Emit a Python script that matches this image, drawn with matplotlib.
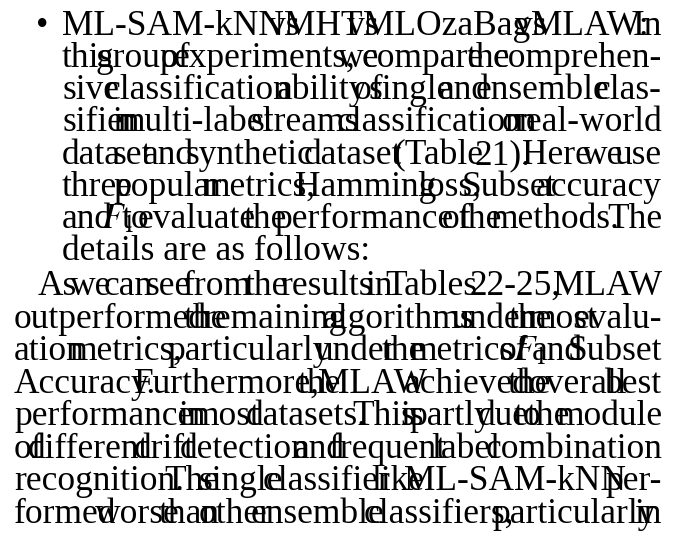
import matplotlib
matplotlib.use("Agg")
import matplotlib.pyplot as plt

plt.rcParams['font.family'] = ['Liberation Serif', 'DejaVu Serif']
plt.rcParams['mathtext.fontset'] = 'stix'

# (text, left x, right x or None when not justified)
lines = [
    ("ML-SAM-kNN vs MHT vs MLOzaBag vs MLAW: In", 62, 662),
    ("this group of experiments, we compare the comprehen-", 62, 662),
    ("sive classification ability of single and ensemble clas-", 62, 662),
    ("sifier in multi-label streams classification on real-world", 62, 662),
    ("data set and synthetic dataset (Table 21). Here we use", 62, 662),
    ("three popular metrics, Hamming loss, Subset accuracy", 62, 662),
    ("and $F_1$ to evaluate the performance of the methods. The", 62, 662),
    ("details are as follows:", 62, None),
    ("As we can see from the results in Tables 22-25, MLAW", 38, 662),
    ("outperformed the remaining algorithms under the most evalu-", 14, 662),
    ("ation metrics, particularly under the metrics of $F_1$ and Subset", 14, 662),
    ("Accuracy. Furthermore, the MLAW achieved the overall best", 14, 662),
    ("performance in most datasets. This is partly due to the module", 14, 662),
    ("of different drift detection and frequent label combination", 14, 662),
    ("recognition. The single classifier like ML-SAM-kNN per-", 14, 662),
    ("formed worse than other ensemble classifiers, particularly in", 14, 662),
]
baselines = [35, 67, 99, 131, 164, 196, 228, 260,
             295, 328, 360, 393, 425, 458, 490, 523]

fig = plt.figure(figsize=(6.81, 5.42), dpi=100)
ax = fig.add_axes([0, 0, 1, 1])
ax.set_xlim(0, 681)
ax.set_ylim(542, 0)
ax.axis('off')
renderer = fig.canvas.get_renderer()

# size the font so the unjustified line matches its width in the reference
probe = ax.text(0, 0, "details are as follows:", fontsize=20)
fs = 20 * 308 / probe.get_window_extent(renderer).width
probe.remove()

ax.text(36, baselines[0], "\u2022", fontsize=fs, va='baseline', ha='left')

for (txt, x0, x1), y in zip(lines, baselines):
    words = txt.split(" ")
    if x1 is None:
        ax.text(x0, y, txt, fontsize=fs, va='baseline', ha='left')
        continue
    arts = [ax.text(0, y, w, fontsize=fs, va='baseline', ha='left') for w in words]
    widths = [a.get_window_extent(renderer).width for a in arts]
    gap = (x1 - x0 - sum(widths)) / (len(words) - 1)
    x = x0
    for a, w in zip(arts, widths):
        a.set_x(x)
        x += w + gap

fig.savefig("out.png", dpi=100)
